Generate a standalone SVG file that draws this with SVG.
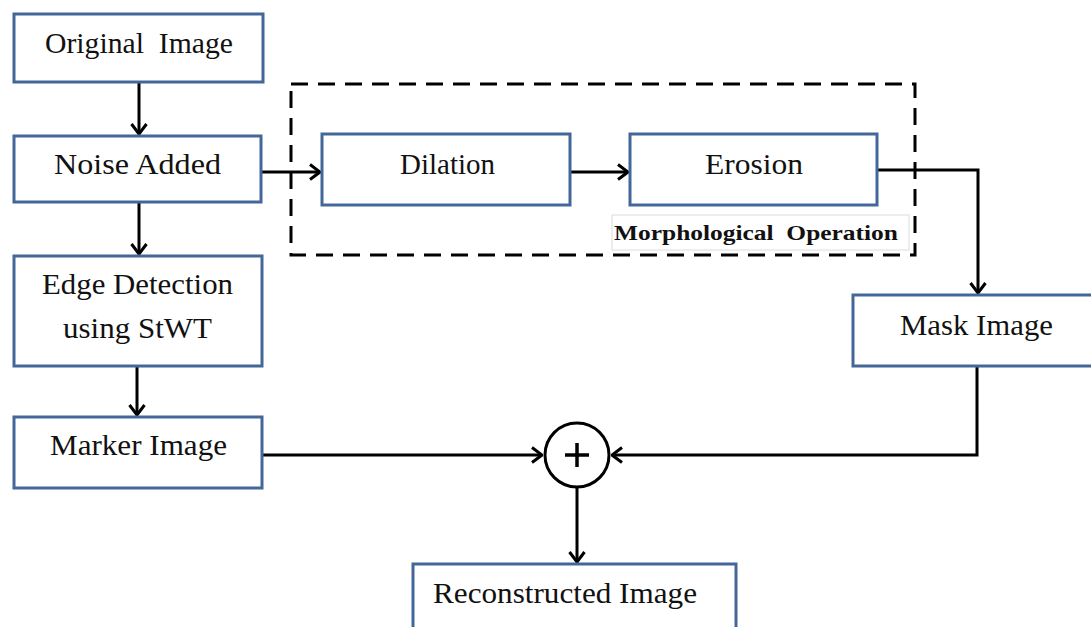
<svg xmlns="http://www.w3.org/2000/svg" width="1091" height="627" viewBox="0 0 1091 627">
  <defs>
    <style>
      .box { fill: #ffffff; stroke: #44679a; stroke-width: 3; }
      .lbl { font-size: 29px; fill: #111; }
      .bold { font-size: 21px; font-weight: bold; fill: #111; }
      .wire { fill: none; stroke: #000; stroke-width: 3; }
    </style>
    <marker id="arrow" viewBox="0 0 12 18" refX="11" refY="9" markerWidth="12" markerHeight="18" markerUnits="userSpaceOnUse" orient="auto">
      <path d="M1,1.5 L11,9 L1,16.5" fill="none" stroke="#000" stroke-width="3" stroke-linejoin="miter"/>
    </marker>
  </defs>

  <rect width="1091" height="627" fill="#ffffff"/>

  <g font-family="'Liberation Serif', 'Times New Roman', serif">
  <!-- dashed enclosure for the morphological stage -->
  <g id="morph-group">
    <rect x="291" y="84" width="624" height="171" fill="none" stroke="#000" stroke-width="3" stroke-dasharray="17 10"/>
    <rect x="612" y="215" width="297" height="35" fill="#ffffff" stroke="#dcdcdc" stroke-width="1"/>
    <text class="bold" x="614" y="240" textLength="284" lengthAdjust="spacingAndGlyphs" xml:space="preserve">Morphological  Operation</text>
  </g>

  <!-- connectors -->
  <g id="connectors">
    <line class="wire" x1="139" y1="82" x2="139" y2="134" marker-end="url(#arrow)"/>
    <line class="wire" x1="139" y1="202" x2="139" y2="254" marker-end="url(#arrow)"/>
    <line class="wire" x1="137" y1="366" x2="137" y2="415" marker-end="url(#arrow)"/>
    <line class="wire" x1="261" y1="172" x2="320" y2="172" marker-end="url(#arrow)"/>
    <line class="wire" x1="570" y1="172" x2="628" y2="172" marker-end="url(#arrow)"/>
    <polyline class="wire" points="877,170 978,170 978,293" marker-end="url(#arrow)"/>
    <line class="wire" x1="262" y1="455" x2="542" y2="455" marker-end="url(#arrow)"/>
    <polyline class="wire" points="977,366 977,455 612,455" marker-end="url(#arrow)"/>
    <line class="wire" x1="577" y1="488" x2="577" y2="562" marker-end="url(#arrow)"/>
  </g>

  <g id="original-image">
    <rect class="box" x="14" y="14" width="249" height="68"/>
    <text class="lbl" x="45" y="53" textLength="188" lengthAdjust="spacingAndGlyphs" xml:space="preserve">Original  Image</text>
  </g>

  <g id="noise-added">
    <rect class="box" x="14" y="136" width="247" height="66"/>
    <text class="lbl" x="54" y="174" textLength="167" lengthAdjust="spacingAndGlyphs">Noise Added</text>
  </g>

  <g id="edge-detection">
    <rect class="box" x="14" y="256" width="248" height="110"/>
    <text class="lbl" x="42" y="294" textLength="191" lengthAdjust="spacingAndGlyphs">Edge Detection</text>
    <text class="lbl" x="63" y="338" textLength="149" lengthAdjust="spacingAndGlyphs">using StWT</text>
  </g>

  <g id="marker-image">
    <rect class="box" x="14" y="417" width="248" height="71"/>
    <text class="lbl" x="50" y="455" textLength="177" lengthAdjust="spacingAndGlyphs">Marker Image</text>
  </g>

  <g id="dilation">
    <rect class="box" x="322" y="134" width="248" height="71"/>
    <text class="lbl" x="400" y="174" textLength="95" lengthAdjust="spacingAndGlyphs">Dilation</text>
  </g>

  <g id="erosion">
    <rect class="box" x="630" y="134" width="247" height="71"/>
    <text class="lbl" x="705" y="174" textLength="98" lengthAdjust="spacingAndGlyphs">Erosion</text>
  </g>

  <g id="mask-image">
    <rect class="box" x="853" y="295" width="250" height="71"/>
    <text class="lbl" x="900" y="335" textLength="153" lengthAdjust="spacingAndGlyphs">Mask Image</text>
  </g>

  <g id="sum-junction">
    <circle cx="577" cy="455" r="32" fill="#ffffff" stroke="#000" stroke-width="3"/>
    <line x1="565" y1="455" x2="589" y2="455" stroke="#000" stroke-width="3.5"/>
    <line x1="577" y1="443" x2="577" y2="467" stroke="#000" stroke-width="3.5"/>
  </g>

  <g id="reconstructed-image">
    <rect class="box" x="413" y="564" width="323" height="80"/>
    <text class="lbl" x="433" y="603" textLength="264" lengthAdjust="spacingAndGlyphs">Reconstructed Image</text>
  </g>
  </g>
</svg>
